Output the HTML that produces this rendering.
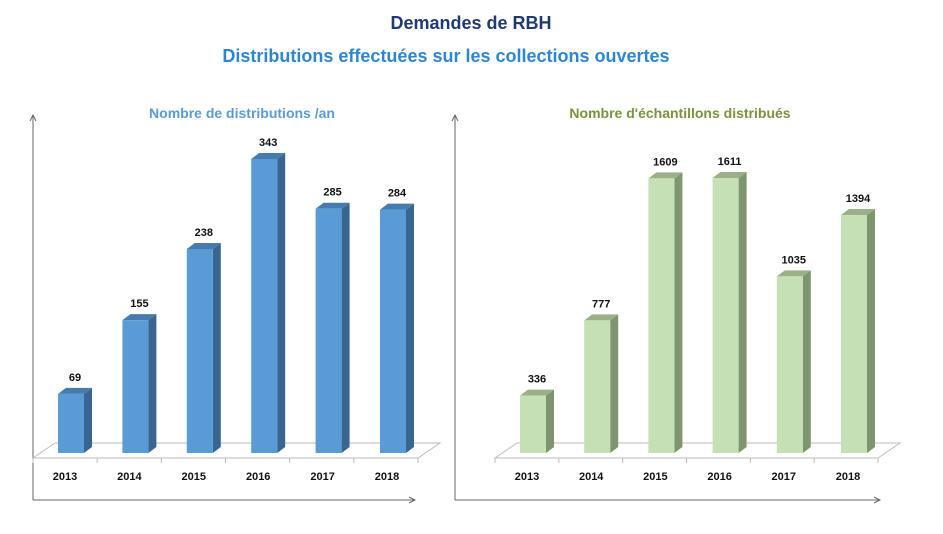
<!DOCTYPE html>
<html><head><meta charset="utf-8"><style>
body{margin:0;background:#fff;width:943px;height:529px;overflow:hidden;font-family:"Liberation Sans",sans-serif}
svg text{font-family:"Liberation Sans",sans-serif}
</style></head><body>
<svg width="943" height="529">
<text x="471" y="29" text-anchor="middle" font-size="18" font-weight="bold" fill="#1f3a6e">Demandes de RBH</text>
<text x="446" y="62" text-anchor="middle" font-size="18" font-weight="bold" fill="#2e86d1">Distributions effectuées sur les collections ouvertes</text>
<text x="242" y="118" text-anchor="middle" font-size="14" font-weight="bold" fill="#5b9bd5">Nombre de distributions /an</text>
<text x="680" y="118" text-anchor="middle" font-size="14" font-weight="bold" fill="#77933c">Nombre d'échantillons distribués</text>
<g id="left"></g>
<g id="right"></g>
</svg>
<script>
const categories=["2013","2014","2015","2016","2017","2018"];
const distributions=[69,155,238,343,285,284];
const samples=[336,777,1609,1611,1035,1394];
const NS="http://www.w3.org/2000/svg";
function mk(p,t,a){const e=document.createElementNS(NS,t);for(const k in a)e.setAttribute(k,a[k]);p.appendChild(e);return e;}
function draw(g,vals,x0,step,scale,front,side,top,axL,axR,floorL,floorR,prefix){
  const base=453;
  const ax=mk(g,'path',{d:`M${axL} 500 V115 M${axL-3} 121 L${axL} 115 L${axL+3} 121 M${axL} 500 H${axR} M${axR-6} 497 L${axR} 500 L${axR-6} 503`,stroke:'#666',fill:'none','stroke-width':1});
  
  
  const fl=mk(g,'path',{d:`M${floorL} 458 L${floorL+22} 443 H${floorR+22} L${floorR} 458 Z`,stroke:'#bbb',fill:'#fff','stroke-width':1});
  
  
  for(let i=0;i<=6;i++){const tx=floorL+i*(floorR-floorL)/6;const t=mk(g,'line',{x1:tx,y1:458,x2:tx,y2:463,stroke:'#bbb'});
    
    }
  vals.forEach((v,i)=>{
    const cx=x0+i*step, w=26, h=v*scale, y=base-h, l=cx-w/2;
    const s=mk(g,'path',{d:`M${l+w} ${y} l8 -6 V${base-6} l-8 6 Z`,fill:side});
    
    
    const tp=mk(g,'path',{d:`M${l} ${y} l8 -6 h${w} l-8 6 Z`,fill:top});
    
    
    const r=mk(g,'rect',{x:l,y:y,width:w,height:h,fill:front});
    
    
    const lb=mk(g,'text',{x:cx+4,y:y-13,'text-anchor':'middle','font-size':11,'font-weight':'bold',fill:'#111'});
    lb.textContent=v;
    
    
    const cl=mk(g,'text',{x:cx-6,y:480,'text-anchor':'middle','font-size':11,'font-weight':'bold',fill:'#111'});
    cl.textContent=categories[i];
    
    
  });
}
draw(document.getElementById('left'),distributions,71,64.4,294/343,'#5b9bd5','#386690','#467bb0',33,415,33,418,'left');
draw(document.getElementById('right'),samples,533,64.2,275/1611,'#c5e0b4','#7f9470','#9bb089',455,880,495,878,'right');
</script>
</body></html>
